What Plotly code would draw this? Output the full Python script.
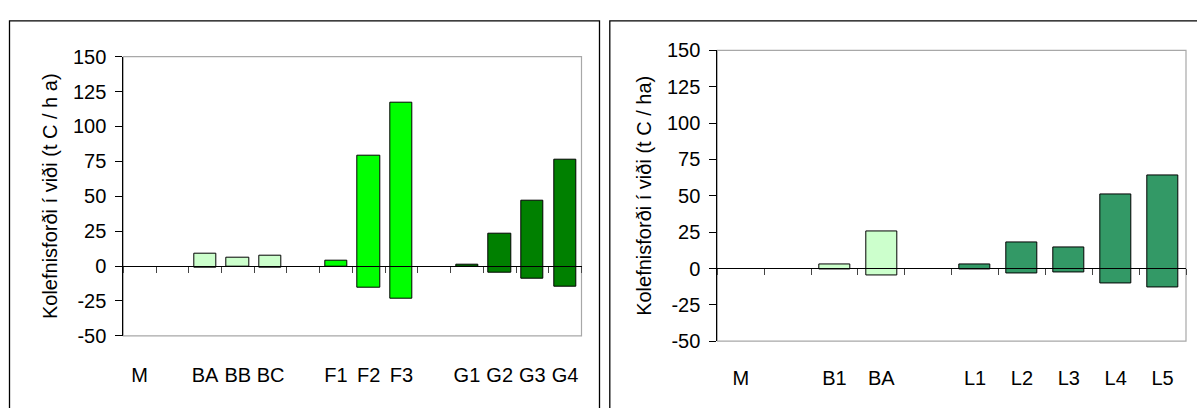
import plotly.graph_objects as go

# ---------------- data ----------------
left_cats = ["M", " ", "BA", "BB", "BC", "  ", "F1", "F2", "F3", "   ", "G1", "G2", "G3", "G4"]
left_top = [None, None, 8.5, 6.0, 7.5, None, 3.8, 79.0, 117.0, None, 0.6, 23.5, 47.0, 76.5]
left_bottom = [None, None, -1.5, -0.8, -1.5, None, -0.8, -15.2, -23.2, None, -0.2, -4.5, -9.2, -14.8]
left_colors = ["#CCFFCC", "#CCFFCC", "#CCFFCC", "#CCFFCC", "#CCFFCC", "#00FF00", "#00FF00",
               "#00FF00", "#00FF00", "#008000", "#008000", "#008000", "#008000", "#008000"]

right_cats = ["M", " ", "B1", "BA", "  ", "L1", "L2", "L3", "L4", "L5"]
right_top = [None, None, 2.5, 25.2, None, 2.5, 18.0, 14.8, 51.0, 64.3]
right_bottom = [None, None, -0.8, -4.9, None, -0.8, -3.6, -3.0, -10.4, -12.8]
right_colors = ["#CCFFCC", "#CCFFCC", "#CCFFCC", "#CCFFCC", "#339966", "#339966", "#339966",
                "#339966", "#339966", "#339966"]

y_ticks = [-50, -25, 0, 25, 50, 75, 100, 125, 150]
y_tick_text = ["-50", "-25", "0", "25", "50", "75", "100", "125", "150"]
left_title = "Kolefnisforði í viði (t C / h a)"
right_title = "Kolefnisforði í viði (t C / ha)"

# ---------------- layout geometry ----------------
W, H = 1197, 408
FONT = "Liberation Sans, Arial, sans-serif"
FS = 20


def px_x(p):
    return p / W


def px_y(p):
    return 1 - p / H


L_xdom = [px_x(123.3), px_x(581.5)]
L_ydom = [px_y(343.3), px_y(48.3)]
R_xdom = [px_x(717.3), px_x(1186.0)]
R_ydom = [px_y(349.0), px_y(41.7)]
YMIN, YMAX = -50, 150


def zero_pos(dom):
    return dom[0] + (0 - YMIN) / (YMAX - YMIN) * (dom[1] - dom[0])


def heights(top, bottom):
    return [None if t is None else t - b for t, b in zip(top, bottom)]


fig = go.Figure()

# left chart bars (on the zero-line axis x2)
fig.add_trace(go.Bar(
    x=left_cats, y=heights(left_top, left_bottom), base=left_bottom,
    marker=dict(color=left_colors, line=dict(color="black", width=1)),
    width=0.68, xaxis="x2", yaxis="y", showlegend=False, hoverinfo="skip"))
# helper (invisible) to register categories on the label axis
fig.add_trace(go.Scatter(
    x=left_cats, y=[0] * len(left_cats), mode="markers", marker=dict(opacity=0),
    xaxis="x", yaxis="y", showlegend=False, hoverinfo="skip"))

# right chart bars
fig.add_trace(go.Bar(
    x=right_cats, y=heights(right_top, right_bottom), base=right_bottom,
    marker=dict(color=right_colors, line=dict(color="black", width=1)),
    width=0.66, xaxis="x4", yaxis="y3", showlegend=False, hoverinfo="skip"))
fig.add_trace(go.Scatter(
    x=right_cats, y=[0] * len(right_cats), mode="markers", marker=dict(opacity=0),
    xaxis="x3", yaxis="y3", showlegend=False, hoverinfo="skip"))

tickfont = dict(family=FONT, size=FS, color="black")

label_axis = dict(type="category", showline=False, ticks="", showgrid=False, zeroline=False,
                  tickfont=tickfont, fixedrange=True)
zero_axis = dict(type="category", showline=True, linecolor="black", linewidth=1,
                 ticks="outside", ticklen=6, tickcolor="#444444", tickwidth=1,
                 tickson="boundaries", showticklabels=False, showgrid=False,
                 zeroline=False, anchor="free", side="bottom", fixedrange=True)
y_axis = dict(range=[YMIN, YMAX], tickvals=y_ticks, ticktext=y_tick_text, ticks="outside",
              ticklen=7, tickcolor="black", showline=True, linecolor="black", linewidth=1,
              showgrid=False, zeroline=False, tickfont=tickfont, fixedrange=True,
              ticklabelstandoff=5)

n_left = len(left_cats)
n_right = len(right_cats)

fig.update_layout(
    width=W, height=H,
    margin=dict(l=0, r=0, t=0, b=0, pad=0),
    paper_bgcolor="white", plot_bgcolor="white",
    bargap=0,
    font=dict(family=FONT, size=FS, color="black"),
    xaxis=dict(label_axis, domain=L_xdom, anchor="y", range=[-0.5, n_left - 0.5],
               ticklabelstandoff=25),
    xaxis2=dict(zero_axis, domain=L_xdom, overlaying="x", position=zero_pos(L_ydom),
                range=[-0.5, n_left - 0.5]),
    yaxis=dict(y_axis, domain=L_ydom, anchor="x",
               title=dict(text=left_title, standoff=9, font=dict(family=FONT, size=FS))),
    xaxis3=dict(label_axis, domain=R_xdom, anchor="y3", range=[-0.5, n_right - 0.5],
                ticklabelstandoff=23),
    xaxis4=dict(zero_axis, domain=R_xdom, overlaying="x3", position=zero_pos(R_ydom),
                range=[-0.5, n_right - 0.5]),
    yaxis3=dict(y_axis, domain=R_ydom, anchor="x3",
                title=dict(text=right_title, standoff=9, font=dict(family=FONT, size=FS))),
    shapes=[
        # plot area borders (gray)
        dict(type="rect", xref="x domain", yref="y domain", x0=0, x1=1, y0=0, y1=1,
             line=dict(color="#a8a8a8", width=1.2), layer="below"),
        dict(type="rect", xref="x3 domain", yref="y3 domain", x0=0, x1=1, y0=0, y1=1,
             line=dict(color="#a8a8a8", width=1.2), layer="below"),
        # outer chart frames
        dict(type="rect", xref="paper", yref="paper", x0=px_x(9.5), x1=px_x(599.5),
             y0=-0.1, y1=px_y(10.5), line=dict(color="black", width=1.3)),
        dict(type="rect", xref="paper", yref="paper", x0=px_x(609.8), x1=1.1,
             y0=-0.1, y1=px_y(10.5), line=dict(color="black", width=1.3)),
    ],
)

fig.write_html("out.html")
